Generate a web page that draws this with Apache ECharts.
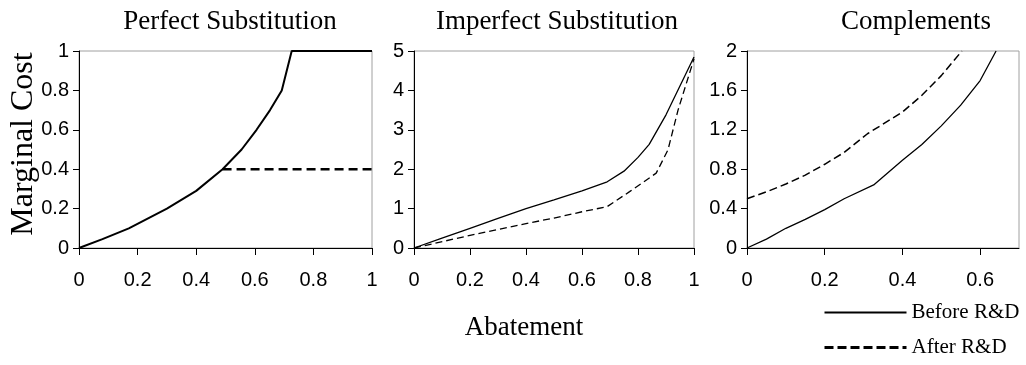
<!DOCTYPE html>
<html>
<head>
<meta charset="utf-8">
<script src="https://cdn.jsdelivr.net/npm/echarts@6/dist/echarts.min.js"></script>
<style>
  html, body { margin: 0; padding: 0; background: #fff; }
  #main { width: 1026px; height: 365px; }
</style>
</head>
<body>
<div id="main"></div>
<script>
// panel titles and axis names
var panelTitles = ['Perfect Substitution', 'Imperfect Substitution', 'Complements'];
var yName = 'Marginal Cost';
var xName = 'Abatement';
var seriesNames = ['Before R&D', 'After R&D'];

// Perfect substitution  [abatement, marginal cost]
var perfectBefore = [[0, 0], [0.08, 0.045], [0.17, 0.1], [0.3, 0.2], [0.4, 0.29], [0.49, 0.4],
  [0.555, 0.5], [0.606, 0.6], [0.652, 0.7], [0.692, 0.8], [0.726, 1], [1, 1]];
var perfectAfter = [[0.49, 0.4], [1, 0.4]];

// Imperfect substitution
var imperfectBefore = [[0, 0], [0.1, 0.25], [0.2, 0.5], [0.3, 0.75], [0.4, 1.0], [0.5, 1.22],
  [0.6, 1.45], [0.69, 1.68], [0.75, 1.95], [0.8, 2.3], [0.84, 2.63], [0.9, 3.38], [1, 4.85]];
var imperfectAfter = [[0, 0], [0.2, 0.32], [0.4, 0.62], [0.5, 0.76], [0.6, 0.92], [0.69, 1.05],
  [0.77, 1.43], [0.865, 1.9], [0.907, 2.49], [0.943, 3.5], [1, 4.8]];

// Complements
var complBefore = [[0, 0], [0.05, 0.09], [0.1, 0.2], [0.15, 0.29], [0.2, 0.39], [0.25, 0.5],
  [0.326, 0.64], [0.4, 0.89], [0.45, 1.05], [0.5, 1.24], [0.55, 1.45], [0.6, 1.7], [0.641, 2]];
var complAfter = [[0, 0.5], [0.05, 0.57], [0.1, 0.65], [0.15, 0.74], [0.2, 0.85], [0.25, 0.97],
  [0.31, 1.16], [0.4, 1.38], [0.45, 1.55], [0.5, 1.75], [0.553, 2]];

// axis ranges per panel
var xMax = [1, 1, 0.7];
var yMax = [1, 5, 2];
var yStep = [0.2, 1, 0.4];

var myChart = echarts.init(document.getElementById('main'));

var grids = [
  { left: 79, top: 51, width: 293, height: 197 },
  { left: 414, top: 51, width: 280, height: 197 },
  { left: 747, top: 51, width: 272, height: 197 }
];
grids.forEach(function (g) {
  g.show = true;
  g.borderColor = '#a0a0a0';
  g.borderWidth = 1;
  g.backgroundColor = 'transparent';
});

var labelFont = { color: '#000', fontFamily: 'Liberation Sans', fontSize: 20 };

var xAxes = [], yAxes = [];
for (var i = 0; i < 3; i++) {
  xAxes.push({
    type: 'value', gridIndex: i, min: 0, max: xMax[i], interval: 0.2,
    axisLine: { show: true, lineStyle: { color: '#000', width: 1 } },
    axisTick: { show: true, inside: false, length: 7, lineStyle: { color: '#000' } },
    axisLabel: Object.assign({ margin: 22, showMaxLabel: xMax[i] === 1 }, labelFont),
    splitLine: { show: false }
  });
  yAxes.push({
    type: 'value', gridIndex: i, min: 0, max: yMax[i], interval: yStep[i],
    axisLine: { show: true, lineStyle: { color: '#000', width: 1 } },
    axisTick: { show: true, inside: false, length: 6, lineStyle: { color: '#000' } },
    axisLabel: Object.assign({ margin: 10 }, labelFont),
    splitLine: { show: false }
  });
}

function line(name, idx, data, width, dash) {
  return {
    name: name, type: 'line', xAxisIndex: idx, yAxisIndex: idx,
    data: data, symbol: 'none', smooth: false, animation: false,
    color: '#000',
    itemStyle: { color: '#000' },
    lineStyle: { color: '#000', width: width, type: dash ? dash : 'solid' }
  };
}

var serif = 'Liberation Serif';
var titleCenters = [230, 557, 916];

var option = {
  backgroundColor: '#fff',
  animation: false,
  grid: grids,
  xAxis: xAxes,
  yAxis: yAxes,
  legend: {
    orient: 'vertical',
    left: 823, top: 302, height: 120,
    padding: 0,
    itemWidth: 82, itemHeight: 14, itemGap: 14,
    itemStyle: { opacity: 0 },
    data: [
      { name: seriesNames[0], lineStyle: { width: 2, type: 'solid' } },
      { name: seriesNames[1], lineStyle: { width: 3, type: [9, 4] } }
    ],
    textStyle: { color: '#000', fontFamily: serif, fontSize: 21 }
  },
  graphic: [
    { type: 'text', x: titleCenters[0], y: 22, style: { text: panelTitles[0], font: '27px "Liberation Serif"', fill: '#000', textAlign: 'center', textVerticalAlign: 'middle' } },
    { type: 'text', x: titleCenters[1], y: 22, style: { text: panelTitles[1], font: '27px "Liberation Serif"', fill: '#000', textAlign: 'center', textVerticalAlign: 'middle' } },
    { type: 'text', x: titleCenters[2], y: 22, style: { text: panelTitles[2], font: '27px "Liberation Serif"', fill: '#000', textAlign: 'center', textVerticalAlign: 'middle' } },
    { type: 'text', x: 24, y: 144, rotation: Math.PI / 2, style: { text: yName, font: '32px "Liberation Serif"', fill: '#000', textAlign: 'center', textVerticalAlign: 'middle' } },
    { type: 'text', x: 524, y: 328, style: { text: xName, font: '27px "Liberation Serif"', fill: '#000', textAlign: 'center', textVerticalAlign: 'middle' } }
  ],
  series: [
    line(seriesNames[0], 0, perfectBefore, 2),
    line(seriesNames[1], 0, perfectAfter, 2.5, [9, 5]),
    line(seriesNames[0], 1, imperfectBefore, 1.3),
    line(seriesNames[1], 1, imperfectAfter, 1.3, [7, 4]),
    line(seriesNames[0], 2, complBefore, 1.3),
    line(seriesNames[1], 2, complAfter, 1.5, [8, 4])
  ]
};

myChart.setOption(option);
</script>
</body>
</html>
